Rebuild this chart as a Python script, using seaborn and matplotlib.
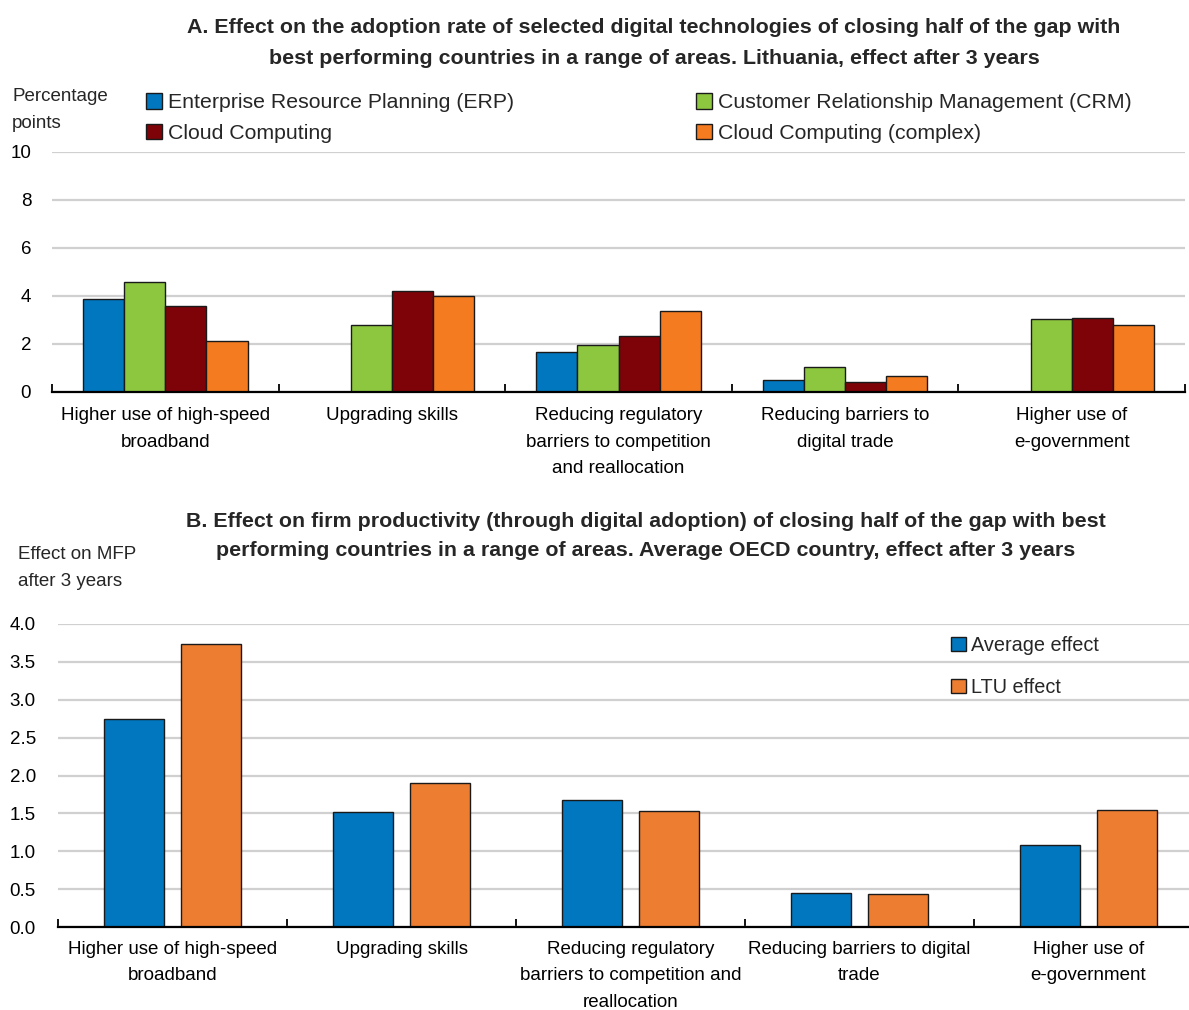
import numpy as np
import pandas as pd
import matplotlib
matplotlib.use("Agg")
import matplotlib.pyplot as plt
import seaborn as sns
from matplotlib.patches import Patch
from matplotlib.ticker import FixedLocator

# ---- data -------------------------------------------------------------
policy_areas = ["Broadband", "Skills", "Regulation", "Digital trade", "E-government"]

labels_a = [
    "Higher use of high-speed\nbroadband",
    "Upgrading skills",
    "Reducing regulatory\nbarriers to competition\nand reallocation",
    "Reducing barriers to\ndigital trade",
    "Higher use of\ne-government",
]
labels_b = [
    "Higher use of high-speed\nbroadband",
    "Upgrading skills",
    "Reducing regulatory\nbarriers to competition and\nreallocation",
    "Reducing barriers to digital\ntrade",
    "Higher use of\ne-government",
]

tech_series = [
    "Enterprise Resource Planning (ERP)",
    "Customer Relationship Management (CRM)",
    "Cloud Computing",
    "Cloud Computing (complex)",
]
erp = [3.88, np.nan, 1.68, 0.50, np.nan]
crm = [4.57, 2.78, 1.96, 1.04, 3.05]
cloud = [3.57, 4.19, 2.35, 0.43, 3.07]
cloud_complex = [2.11, 3.99, 3.36, 0.67, 2.79]

effect_series = ["Average effect", "LTU effect"]
average_effect = [2.74, 1.52, 1.67, 0.45, 1.08]
ltu_effect = [3.74, 1.90, 1.53, 0.43, 1.55]

tech_colors = ["#0177BF", "#8DC63F", "#7E0308", "#F47B20"]
effect_colors = ["#0177BF", "#ED7D31"]

# ---- long tables for seaborn -----------------------------------------
df_a = pd.DataFrame(
    [(a, s, v) for s, vals in zip(tech_series, [erp, crm, cloud, cloud_complex])
     for a, v in zip(policy_areas, vals)],
    columns=["area", "series", "value"],
)
df_b = pd.DataFrame(
    [(a, s, v) for s, vals in zip(effect_series, [average_effect, ltu_effect])
     for a, v in zip(policy_areas, vals)],
    columns=["area", "series", "value"],
)

# ---- styling ---------------------------------------------------------
sns.set_theme(style="white")
plt.rcParams["font.family"] = ["Liberation Sans", "DejaVu Sans"]
TXT = 13.5
TITLE = 15.4
EDGE = "#1a1a1a"

W, H = 1189, 1010
fig = plt.figure(figsize=(W / 100, H / 100), dpi=100)


def px_axes(left, right, top, bottom):
    return fig.add_axes([left / W, 1 - bottom / H, (right - left) / W, (bottom - top) / H])


def style_axis(ax, ticks, ymax, fmt, labels, pad_x, pad_y):
    ax.set_xlim(-0.5, 4.5)
    ax.set_ylim(0, ymax)
    ax.set_yticks(ticks)
    ax.set_yticklabels([fmt.format(t) for t in ticks], fontsize=TXT)
    ax.set_xticks(range(len(policy_areas)))
    ax.set_xticklabels(labels, fontsize=TXT, linespacing=1.72)
    ax.xaxis.set_minor_locator(FixedLocator(np.arange(-0.5, 5.0, 1.0)))
    ax.tick_params(axis="x", which="major", length=0, pad=pad_x, colors="black")
    ax.tick_params(axis="x", which="minor", direction="in", length=6, width=1.3,
                   color="black", bottom=True)
    ax.tick_params(axis="y", length=0, pad=pad_y, colors="black")
    ax.yaxis.grid(True, color="#d0d0d0", linewidth=1.6)
    ax.set_axisbelow(True)
    for side in ["top", "right", "left"]:
        ax.spines[side].set_visible(False)
    ax.spines["bottom"].set_color("black")
    ax.spines["bottom"].set_linewidth(1.6)
    ax.set_xlabel("")
    ax.set_ylabel("")


# ---- panel A ---------------------------------------------------------
ax_a = px_axes(52, 1185, 152, 392)
sns.barplot(data=df_a, x="area", y="value", hue="series", order=policy_areas,
            hue_order=tech_series, palette=tech_colors, saturation=1, width=0.727, gap=0,
            edgecolor=EDGE, linewidth=1.0, errorbar=None, legend=False, ax=ax_a)
style_axis(ax_a, [0, 2, 4, 6, 8, 10], 10, "{:.0f}", labels_a, 11, 15)

fig.text(654 / W, 1 - 43 / H,
         "A. Effect on the adoption rate of selected digital technologies of closing half of the gap with\n"
         "best performing countries in a range of areas. Lithuania, effect after 3 years",
         ha="center", va="center", fontsize=TITLE, fontweight="bold", linespacing=1.78)
fig.text(12 / W, 1 - 110 / H, "Percentage\npoints", ha="left", va="center",
         fontsize=TXT, linespacing=1.72)

tech_handles = [Patch(facecolor=c, edgecolor=EDGE, linewidth=1.0, label=s)
                for c, s in zip(tech_colors, tech_series)]
leg_kw = dict(frameon=False, fontsize=15.3, handlelength=0.75, handleheight=0.75,
              handletextpad=0.3, borderpad=0, borderaxespad=0, labelspacing=0.55)
fig.legend(handles=[tech_handles[0], tech_handles[2]], loc="upper left",
           bbox_to_anchor=(146 / W, 1 - 93 / H), **leg_kw)
fig.legend(handles=[tech_handles[1], tech_handles[3]], loc="upper left",
           bbox_to_anchor=(696 / W, 1 - 93 / H), **leg_kw)

# ---- panel B ---------------------------------------------------------
ax_b = px_axes(58, 1203, 624, 927)
sns.barplot(data=df_b, x="area", y="value", hue="series", order=policy_areas,
            hue_order=effect_series, palette=effect_colors, saturation=1, width=0.672, gap=0.21,
            edgecolor=EDGE, linewidth=1.0, errorbar=None, legend=False, ax=ax_b)
style_axis(ax_b, np.arange(0, 4.01, 0.5), 4.0, "{:.1f}", labels_b, 10, 16)

fig.text(646 / W, 1 - 536 / H,
         "B. Effect on firm productivity (through digital adoption) of closing half of the gap with best\n"
         "performing countries in a range of areas. Average OECD country, effect after 3 years",
         ha="center", va="center", fontsize=TITLE, fontweight="bold", linespacing=1.66)
fig.text(18 / W, 1 - 568 / H, "Effect on MFP\nafter 3 years", ha="left", va="center",
         fontsize=TXT, linespacing=1.7)

effect_handles = [Patch(facecolor=c, edgecolor=EDGE, linewidth=1.0, label=s)
                  for c, s in zip(effect_colors, effect_series)]
fig.legend(handles=effect_handles, loc="upper left", bbox_to_anchor=(951 / W, 1 - 636 / H),
           frameon=False, fontsize=14.3, handlelength=0.75, handleheight=0.75,
           handletextpad=0.25, borderpad=0, borderaxespad=0, labelspacing=1.15)

fig.savefig("out.png", dpi=100, facecolor="white")
